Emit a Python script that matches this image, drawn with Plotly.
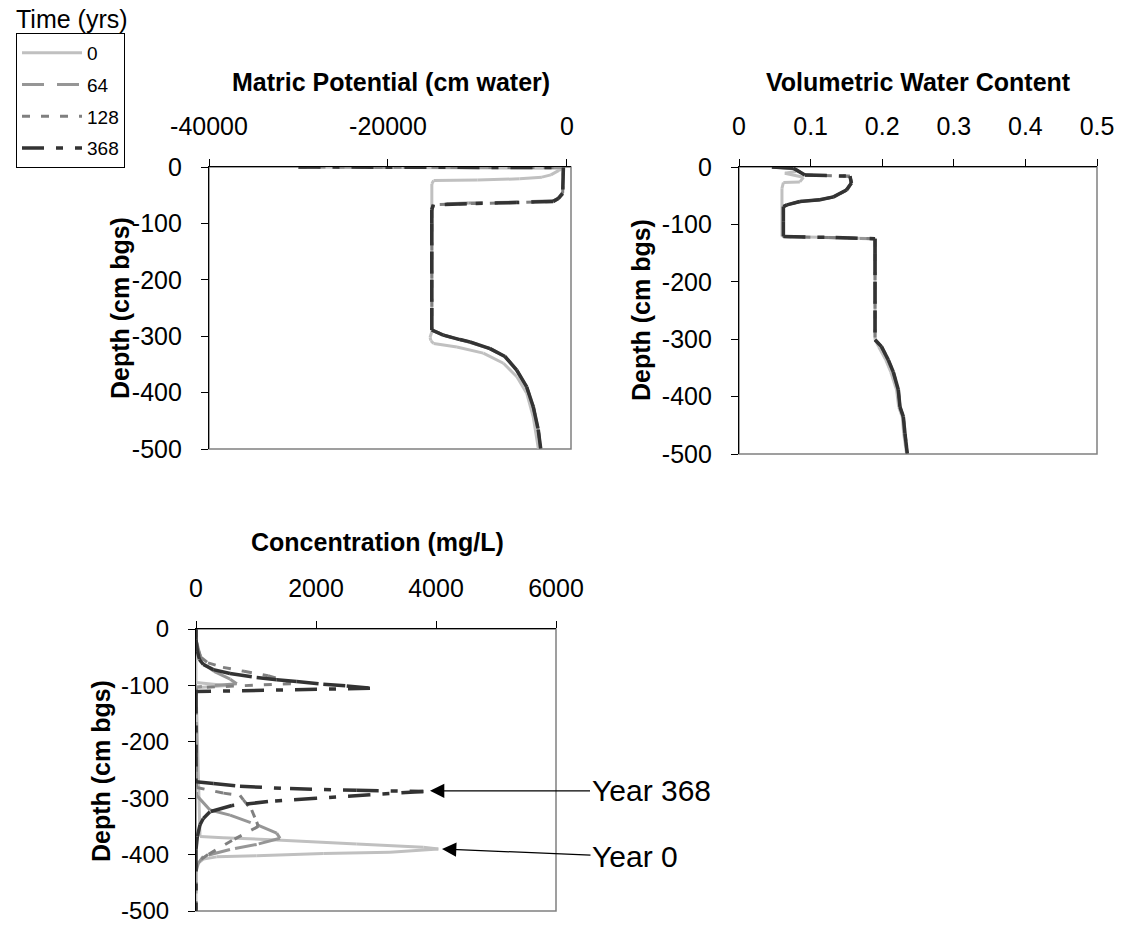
import plotly.graph_objects as go

W, H = 1121, 926
FONT = "Liberation Sans"

# ---------------- series metadata ----------------
years = ["0", "64", "128", "368"]
colors = {"0": "#c0c0c0", "64": "#969696", "128": "#808080", "368": "#333333"}
widths = {"0": 3, "64": 3, "128": 3, "368": 3.5}
dashes = {"0": "solid", "64": "22px,13px", "128": "8px,11px", "368": "22px,12px,7px,12px"}

# ---------------- matric potential (cm water) vs depth (cm bgs) ----------------
mp_depth_0 = [0, -2, -6, -14, -18, -21, -23, -24, -30, -292, -302, -308, -313, -319,
              -330, -348, -372, -401, -443, -499]
mp_val_0 = [-30000, -500, -900, -1800, -2800, -5300, -10000, -14900, -15100, -15100,
            -15300, -15200, -14900, -12300, -9350, -7100, -5600, -4500, -3770, -3200]

mp_depth_64 = [0, -1, -45, -55, -60, -62, -64, -66, -75, -100, -150, -200, -250, -289,
               -298, -306, -311, -322, -336, -360, -390, -425, -466, -499]
mp_val_64 = [-30000, -400, -480, -950, -1500, -5500, -11000, -14900, -15100, -15100,
             -15100, -15100, -15100, -15100, -13800, -12000, -10900, -8600, -6900,
             -5600, -4500, -3770, -3210, -2940]

mp_depth_128 = [0, -1, -46, -56, -61, -63, -65, -67, -76, -100, -150, -200, -250, -289,
                -298, -306, -310, -322, -336, -360, -390, -425, -466, -499]
mp_val_128 = [-30000, -400, -480, -970, -1530, -5600, -11200, -14900, -15100, -15100,
              -15100, -15100, -15100, -15100, -13800, -11960, -10840, -8600, -6930,
              -5620, -4500, -3770, -3210, -2940]

mp_depth_368 = [0, -1, -47, -56, -61, -63, -65, -67, -76, -100, -150, -200, -250, -289,
                -298, -306, -310, -322, -336, -360, -390, -425, -466, -499]
mp_val_368 = [-30000, -400, -480, -970, -1530, -5620, -11200, -14940, -15110, -15110,
              -15110, -15110, -15110, -15110, -13820, -11960, -10840, -8600, -6930,
              -5620, -4500, -3770, -3210, -2940]

# ---------------- volumetric water content vs depth ----------------
vwc_depth_0 = [0, -3, -8, -11, -18, -26, -27, -37, -121, -123, -125, -150, -200, -250,
               -301, -313, -336, -357, -388, -418, -435, -464, -499]
vwc_val_0 = [0.046, 0.075, 0.080, 0.064, 0.090, 0.085, 0.062, 0.060, 0.060, 0.130, 0.190,
             0.190, 0.190, 0.190, 0.190, 0.195, 0.205, 0.212, 0.220, 0.223, 0.228, 0.230, 0.234]

vwc_depth_64 = [0, -2, -14, -16, -28, -40, -52, -57, -60, -66, -69, -95, -121, -123, -125,
                -150, -200, -250, -301, -313, -336, -357, -388, -418, -435, -464, -499]
vwc_val_64 = [0.046, 0.076, 0.092, 0.155, 0.157, 0.150, 0.132, 0.113, 0.085, 0.067, 0.062,
              0.062, 0.062, 0.120, 0.190, 0.190, 0.190, 0.190, 0.190, 0.199, 0.208, 0.215,
              0.222, 0.225, 0.229, 0.231, 0.235]

vwc_depth_128 = [0, -2, -14, -16, -28, -40, -52, -57, -60, -66, -69, -95, -121, -123, -125,
                 -150, -200, -250, -301, -313, -336, -357, -388, -418, -435, -464, -499]
vwc_val_128 = [0.046, 0.076, 0.092, 0.155, 0.157, 0.151, 0.133, 0.114, 0.086, 0.067, 0.062,
               0.062, 0.062, 0.125, 0.190, 0.190, 0.190, 0.190, 0.190, 0.199, 0.2085, 0.2155,
               0.2225, 0.2248, 0.2295, 0.2318, 0.235]

vwc_depth_368 = [0, -2, -14, -16, -28, -40, -52, -57, -60, -66, -69, -95, -121, -123, -125,
                 -150, -200, -250, -301, -313, -336, -357, -388, -418, -435, -464, -499]
vwc_val_368 = [0.046, 0.076, 0.092, 0.155, 0.157, 0.150, 0.132, 0.113, 0.085, 0.067, 0.062,
               0.062, 0.062, 0.135, 0.190, 0.190, 0.190, 0.190, 0.190, 0.199, 0.2085, 0.2155,
               0.2225, 0.2248, 0.2295, 0.2318, 0.235]

# ---------------- concentration (mg/L) vs depth ----------------
conc_depth_0 = [0, -95, -100, -104, -368, -370, -374, -381, -387, -390, -396, -398, -402,
                -404, -408, -415, -421, -500]
conc_val_0 = [0, 0, 500, 0, 67, 450, 1345, 2678, 3789, 4039, 3233, 2122, 1011, 344, 122,
              39, 0, 0]

conc_depth_64 = [0, -19, -60, -75, -89, -97, -103, -295, -321, -330, -347, -362, -371,
                 -382, -391, -403, -415, -430, -500]
conc_val_64 = [0, 0, 100, 300, 570, 680, 0, 11, 233, 567, 1011, 1345, 1400, 1011, 567,
               122, 39, 0, 0]

conc_depth_128 = [0, -19, -35, -50, -60, -68, -75, -83, -92, -97, -104, -281, -291, -295,
                  -303, -321, -342, -350, -375, -400, -415, -500]
conc_val_128 = [0, 0, 30, 80, 200, 450, 800, 1200, 1500, 1580, 0, 11, 456, 733, 789, 928,
                1011, 1039, 600, 200, 0, 0]

conc_depth_368 = [0, -19, -39, -54, -63, -72, -79, -86, -90, -93, -98, -101, -105, -111,
                  -271, -274, -279, -283, -286, -288, -294, -300, -306, -313, -324, -336,
                  -347, -368, -391, -500]
conc_val_368 = [0, 0, 22, 56, 122, 289, 567, 1011, 1345, 1678, 2122, 2512, 2900, 0,
                0, 289, 733, 1567, 2678, 3789, 2900, 2000, 1200, 600, 233, 122, 67, 22, 0, 0]

mp_series = {"0": (mp_val_0, mp_depth_0), "64": (mp_val_64, mp_depth_64),
             "128": (mp_val_128, mp_depth_128), "368": (mp_val_368, mp_depth_368)}
vwc_series = {"0": (vwc_val_0, vwc_depth_0), "64": (vwc_val_64, vwc_depth_64),
              "128": (vwc_val_128, vwc_depth_128), "368": (vwc_val_368, vwc_depth_368)}
conc_series = {"0": (conc_val_0, conc_depth_0), "64": (conc_val_64, conc_depth_64),
               "128": (conc_val_128, conc_depth_128), "368": (conc_val_368, conc_depth_368)}

mp_ticks = [-40000, -20000, 0]
mp_labels = ["-40000", "-20000", "0"]
vwc_ticks = [0, 0.1, 0.2, 0.3, 0.4, 0.5]
vwc_labels = ["0", "0.1", "0.2", "0.3", "0.4", "0.5"]
conc_ticks = [0, 2000, 4000, 6000]
conc_labels = ["0", "2000", "4000", "6000"]
depth_ticks = [0, -100, -200, -300, -400, -500]
depth_labels = ["0", "-100", "-200", "-300", "-400", "-500"]


def segments(xs, ys):
    """Split a polyline into separate two-point pieces so that each piece
    starts its own dash cycle (spreadsheet-style dashed rendering)."""
    X, Y = [], []
    for i in range(len(xs) - 1):
        X += [xs[i], xs[i + 1], None]
        Y += [ys[i], ys[i + 1], None]
    return X, Y


fig = go.Figure()

panels = [("x", "y", mp_series, True), ("x2", "y2", vwc_series, False),
          ("x3", "y3", conc_series, False)]
for xa, ya, series, show in panels:
    for yr in years:
        vals, deps = series[yr]
        X, Y = segments(vals, deps)
        fig.add_trace(go.Scatter(
            x=X, y=Y, xaxis=xa, yaxis=ya, mode="lines", name=yr,
            legendgroup=yr, showlegend=show, connectgaps=False,
            line=dict(color=colors[yr], width=widths[yr], dash=dashes[yr], simplify=False),
            hoverinfo="skip"))


def px2x(p):
    return p / W


def py2y(p):
    return 1 - p / H


tickfont = dict(family=FONT, size=25, color="black")


def xaxis(domain, rng, ticks, labels):
    return dict(domain=domain, range=rng, side="top", tickvals=ticks, ticktext=labels,
                showline=True, linecolor="black", linewidth=1.2,
                ticks="outside", ticklen=7, tickcolor="black", tickwidth=1,
                showgrid=False, zeroline=False, tickfont=tickfont,
                ticklabelstandoff=14, automargin=False, ticklabeloverflow="allow")


def yaxis(domain, anchor, size=25):
    return dict(domain=domain, range=[-500, 0], tickvals=depth_ticks, ticktext=depth_labels,
                anchor=anchor, showline=True, linecolor="black", linewidth=1.2,
                ticks="outside", ticklen=7, tickcolor="black", tickwidth=1,
                showgrid=False, zeroline=False, tickfont=dict(tickfont, size=size),
                ticklabelstandoff=14, automargin=False, ticklabeloverflow="allow")


# plot areas in pixel coordinates: left, right, top, bottom
boxes = {
    "1": (209, 571, 167, 449),
    "2": (739, 1097, 167, 454),
    "3": (196, 556, 629, 911),
}


def dom(b):
    l, r, t, bt = b
    return [px2x(l), px2x(r)], [py2y(bt), py2y(t)]


dx1, dy1 = dom(boxes["1"])
dx2, dy2 = dom(boxes["2"])
dx3, dy3 = dom(boxes["3"])

layout = dict(
    width=W, height=H, autosize=False,
    margin=dict(l=0, r=0, t=0, b=0, pad=0, autoexpand=False),
    paper_bgcolor="white", plot_bgcolor="white",
    font=dict(family=FONT, color="black"),
    xaxis=dict(xaxis(dx1, [-40000, 450], mp_ticks, mp_labels), anchor="y"),
    yaxis=yaxis(dy1, "x"),
    xaxis2=dict(xaxis(dx2, [0, 0.5], vwc_ticks, vwc_labels), anchor="y2"),
    yaxis2=yaxis(dy2, "x2"),
    xaxis3=dict(xaxis(dx3, [0, 6000], conc_ticks, conc_labels), anchor="y3"),
    yaxis3=yaxis(dy3, "x3", size=24),
    legend=dict(x=px2x(16), y=py2y(33), xanchor="left", yanchor="top",
                bordercolor="black", borderwidth=1, bgcolor="white",
                font=dict(family=FONT, size=19, color="black"),
                itemwidth=60, tracegroupgap=4, traceorder="grouped"),
    showlegend=True,
)
fig.update_layout(**layout)

# grey plot-area frames
for xr, yr_ in [("x", "y"), ("x2", "y2"), ("x3", "y3")]:
    fig.add_shape(type="rect", xref=f"{xr} domain", yref=f"{yr_} domain",
                  x0=0, x1=1, y0=0, y1=1, line=dict(color="#808080", width=1.5),
                  layer="below")

titlefont = dict(family=FONT, size=25, color="black")
ann = [
    dict(text="<b>Matric Potential (cm water)</b>", x=px2x(391), y=py2y(82)),
    dict(text="<b>Volumetric Water Content</b>", x=px2x(918), y=py2y(82)),
    dict(text="<b>Concentration (mg/L)</b>", x=px2x(377), y=py2y(542)),
    dict(text="<b>Depth (cm bgs)</b>", x=px2x(120), y=py2y(308), textangle=-90),
    dict(text="<b>Depth (cm bgs)</b>", x=px2x(641), y=py2y(310), textangle=-90),
    dict(text="<b>Depth (cm bgs)</b>", x=px2x(101), y=py2y(771), textangle=-90),
]
for a in ann:
    fig.add_annotation(xref="paper", yref="paper", showarrow=False,
                       xanchor="center", yanchor="middle", font=titlefont, **a)

fig.add_annotation(xref="paper", yref="paper", x=px2x(14), y=py2y(19),
                   text="Time (yrs)", showarrow=False, xanchor="left", yanchor="middle",
                   font=dict(family=FONT, size=25, color="black"))

# labelled peaks in the concentration panel
peak_368 = (3900, -287)
peak_0 = (4100, -390)
for (xv, yv), label, axp, ayp in [(peak_368, "Year 368", 221, 0),
                                   (peak_0, "Year 0", 193, 8)]:
    fig.add_annotation(xref="x3", yref="y3", x=xv, y=yv, text=label,
                       showarrow=True, ax=axp, ay=ayp, axref="pixel", ayref="pixel",
                       arrowhead=2, arrowsize=2.2, arrowwidth=1.3, arrowcolor="black",
                       standoff=0, font=dict(family=FONT, size=30, color="black"))

fig.write_html("out.html")
